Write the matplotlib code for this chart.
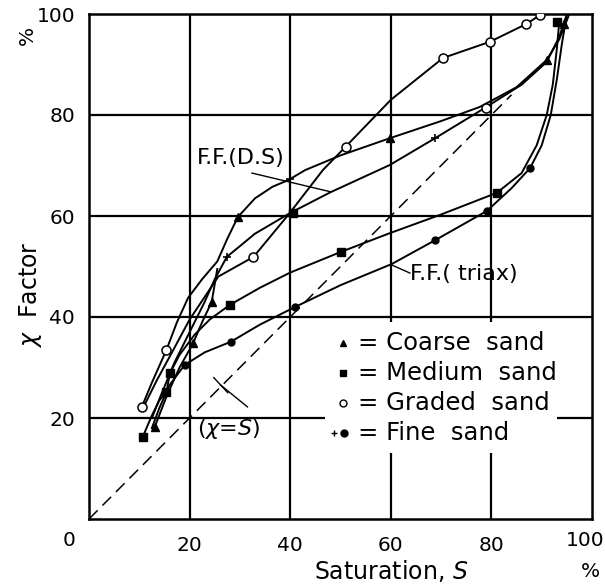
import matplotlib
matplotlib.use('Agg')
import matplotlib.pyplot as plt
from matplotlib.patches import Rectangle

# curves: saturation S (%) and chi factor (%)
coarse_ds_s = [10.5, 12.5, 15.4, 17.5, 19.7, 22.5, 25.5, 27.5, 29.6, 33, 36.5, 39.6, 43, 50, 59.8, 70, 77.7, 85, 91, 93.5, 95.5]
coarse_ds_x = [22.2, 27, 33.5, 39, 43.8, 47.5, 51, 55.5, 59.8, 63.5, 65.8, 67.1, 69.1, 72, 75.4, 78.8, 81.6, 85.5, 90.9, 95, 100]

graded_ds_s = [11, 13.5, 16.5, 20, 25.7, 32.7, 39.6, 46.5, 51, 60, 70.4, 79.7, 86.9, 89.7]
graded_ds_x = [22.5, 27.5, 33, 39.5, 48, 51.9, 60.2, 69.1, 73.7, 83, 91.3, 94.5, 98, 99.8]

fine_ds_s = [12.5, 14.5, 17, 20, 23, 25, 27.4, 33, 40, 48, 59.8, 68.8, 78.7, 86, 91, 93.5, 95]
fine_ds_x = [20, 25, 31, 37, 43, 47.5, 51.9, 56.5, 60.6, 64.7, 70.1, 75.4, 81.4, 86, 90.5, 95.5, 100]

coarse_tx_s = [13.1, 15.5, 18, 20.7, 22.5, 24.4, 25.5]
coarse_tx_x = [18.3, 24.5, 30, 34.8, 39, 43, 49.5]

medium_tx_s = [10.7, 12.5, 14, 15.4, 16.1, 18, 21, 24, 28, 34, 40, 50.1, 59.8, 70, 81.1, 86, 89, 91, 92.2, 93, 93.5]
medium_tx_x = [16.3, 20.5, 23.5, 25.2, 28.9, 32.5, 36.5, 39.5, 42.4, 45.8, 48.8, 52.9, 56.6, 60.3, 64.6, 68.5, 74, 80, 86, 93, 98.5]

fine_tx_s = [12.5, 14, 16, 19, 23, 28.2, 34, 41, 50, 60.2, 68.8, 79.1, 84, 87.7, 90, 91.8, 93, 94, 95]
fine_tx_x = [18, 22, 26.5, 30.5, 33, 35.1, 38.5, 42, 46.3, 50.5, 55.2, 61, 65.5, 69.5, 74, 80, 87, 94, 100]

# marker positions
tri_s = [13.1, 20.7, 24.4, 29.6, 59.8, 91, 94.5]
tri_x = [18.3, 34.8, 43, 59.8, 75.4, 90.9, 98]
sq_s = [10.7, 15.4, 16.1, 28, 40.5, 50.1, 81.1, 93]
sq_x = [16.3, 25.2, 28.9, 42.4, 60.6, 52.9, 64.6, 98.5]
oc_s = [10.5, 15.4, 32.7, 51, 70.4, 79, 79.7, 86.9, 89.7]
oc_x = [22.2, 33.5, 51.9, 73.7, 91.3, 81.4, 94.5, 98, 99.8]
plus_s = [27.4, 40, 68.8]
plus_x = [51.9, 67.3, 75.4]
dot_s = [19, 28.2, 41, 68.8, 79.1, 87.7]
dot_x = [30.5, 35.1, 42, 55.2, 61, 69.5]

line_s = [0, 84]  # chi = S line

ticks = [20, 40, 60, 80, 100]
legend_labels = ['= Coarse  sand', '= Medium  sand', '= Graded  sand', '= Fine  sand']
legend_rows = [34.8, 28.9, 23, 17]

fs = 14.5
fig = plt.figure(figsize=(6.05, 5.86), dpi=100)
ax = fig.add_axes([89 / 605, 1 - 519 / 586, 503 / 605, 505 / 586])
ax.set_xlim(0, 100)
ax.set_ylim(0, 100)

for v in ticks[:-1]:
    ax.axvline(v, color='black', lw=1.6, zorder=1)
    ax.axhline(v, color='black', lw=1.6, zorder=1)
for sp in ax.spines.values():
    sp.set_linewidth(1.8)

# white area behind the key
ax.add_patch(Rectangle((47, 13), 46, 26, facecolor='white', edgecolor='none', zorder=1.5))

lw = 1.4
for s, x in [(coarse_ds_s, coarse_ds_x), (graded_ds_s, graded_ds_x), (fine_ds_s, fine_ds_x),
             (coarse_tx_s, coarse_tx_x), (medium_tx_s, medium_tx_x), (fine_tx_s, fine_tx_x)]:
    ax.plot(s, x, color='black', lw=lw, zorder=2)

ax.plot(line_s, line_s, color='black', lw=1.1, dashes=(8, 4.5), zorder=2)

ax.plot(tri_s, tri_x, ls='none', marker='^', ms=6, color='black', zorder=3)
ax.plot(sq_s, sq_x, ls='none', marker='s', ms=5.5, color='black', zorder=3)
ax.plot(oc_s, oc_x, ls='none', marker='o', ms=6.5, mfc='white', mec='black', mew=1.1, zorder=3)
ax.plot(plus_s, plus_x, ls='none', marker='+', ms=6, mew=1.2, color='black', zorder=3)
ax.plot(dot_s, dot_x, ls='none', marker='o', ms=5, color='black', zorder=3)

# labels and pointers
ax.text(21.5, 71.5, 'F.F.(D.S)', fontsize=16, va='center', ha='left')
ax.plot([32.4, 48], [68.5, 64.8], color='black', lw=1.0)
ax.text(63.8, 48.5, 'F.F.( triax)', fontsize=16, va='center', ha='left')
ax.plot([63.8, 60.2], [48.7, 50.3], color='black', lw=1.0)
ax.text(21.5, 17.8, '($\\chi$=$S$)', fontsize=16, va='center', ha='left')
ax.plot([31.5, 26.2], [22.2, 26.5], color='black', lw=1.0)
ax.plot([24.8, 27.6], [28.0, 25.0], color='black', lw=1.0)

# key
key_markers = [dict(marker='^', ms=5, color='black'),
               dict(marker='s', ms=5, color='black'),
               dict(marker='o', ms=5, mfc='white', mec='black')]
for i, (lab, yy) in enumerate(zip(legend_labels, legend_rows)):
    ax.text(53.5, yy, lab, fontsize=17.5, va='center', ha='left', zorder=4)
    if i < 3:
        ax.plot([50.5], [yy], ls='none', zorder=4, **key_markers[i])
    else:
        ax.plot([48.8], [yy], ls='none', marker='+', ms=5, color='black', zorder=4)
        ax.plot([50.7], [yy], ls='none', marker='o', ms=5, color='black', zorder=4)

ax.set_xticks(ticks[:-1])
ax.set_yticks(ticks)
ax.tick_params(length=0, labelsize=fs)
ax.tick_params(axis='x', pad=12)
ax.tick_params(axis='y', pad=10)
xt = ax.get_xaxis_transform()
ax.text(-4, -0.042, '0', fontsize=fs, ha='center', va='center', transform=xt)
ax.text(ticks[-1] - 1.4, -0.042, str(ticks[-1]), fontsize=fs, ha='center', va='center', transform=xt)

ax.text(0.6, -0.103, 'Saturation, $S$', fontsize=17, ha='center', va='center', transform=ax.transAxes)
ax.text(0.996, -0.103, '%', fontsize=fs, ha='center', va='center', transform=ax.transAxes)
ax.text(-0.117, 0.444, '$\\chi$  Factor', fontsize=17, ha='center', va='center', rotation=90,
        transform=ax.transAxes)
ax.text(-0.123, 0.958, '%', fontsize=fs, ha='center', va='center', rotation=90, transform=ax.transAxes)

fig.savefig('out.png', dpi=100)
